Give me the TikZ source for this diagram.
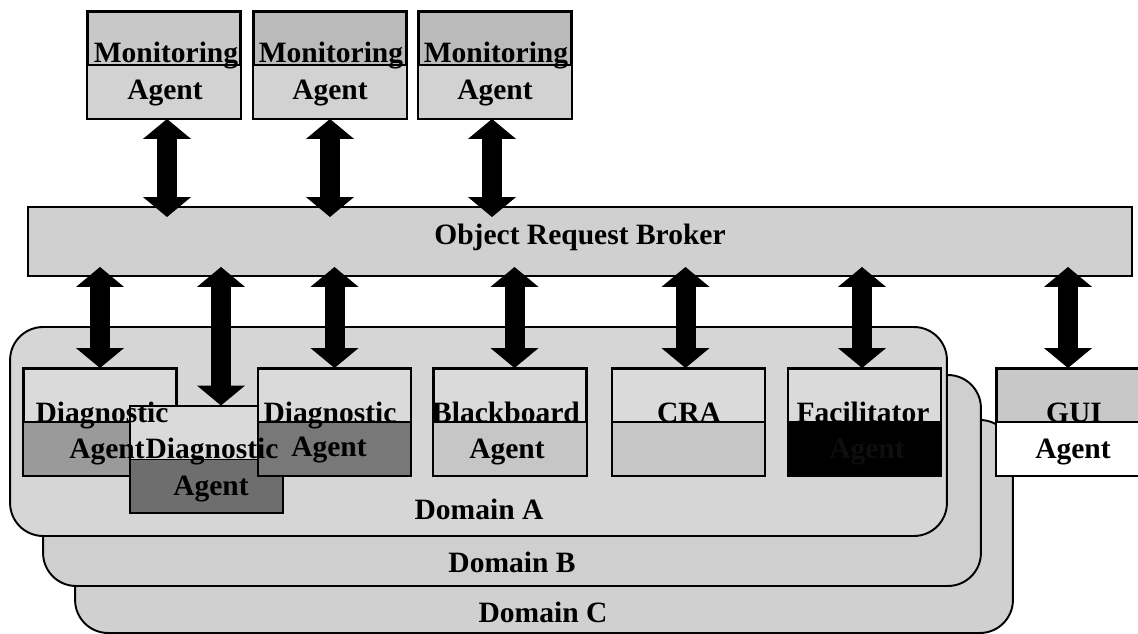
\documentclass[tikz,border=0pt]{standalone}
\usepackage{fontspec}
\setmainfont{Liberation Serif}
\usepackage{xcolor}
\usepackage{tikz}
\usetikzlibrary{arrows.meta,positioning}
\definecolor{orbc}{HTML}{D0D0D0}
\definecolor{domac}{HTML}{D6D6D6}
\definecolor{dombc}{HTML}{CFCFCF}
\definecolor{domcc}{HTML}{D0D0D0}
\definecolor{lightc}{HTML}{DADADA}
\definecolor{montc}{HTML}{C8C8C8}
\definecolor{montd}{HTML}{BABABA}
\definecolor{monbc}{HTML}{D2D2D2}
\definecolor{diagac}{HTML}{9A9A9A}
\definecolor{diagbc}{HTML}{6E6E6E}
\definecolor{diagcc}{HTML}{787878}
\definecolor{bbc}{HTML}{C6C6C6}
\definecolor{inkc}{HTML}{0E0E0E}
\tikzset{
  agent/.style={draw,line width=1.1pt,minimum width=3.04cm,minimum height=2.12cm,inner sep=0pt},
  dombox/.style={draw,line width=1.1pt,rounded corners=0.66cm,inner sep=0pt},
  lbl/.style={anchor=base,inner sep=0pt,font=\fontsize{16.8}{20}\selectfont\bfseries},
  dbl/.style={line width=0.4cm,{Triangle[width=0.94cm,length=0.4cm]}-{Triangle[width=0.94cm,length=0.4cm]}}
}
\begin{document}
\begin{tikzpicture}[x=0.02cm,y=-0.02cm]
\useasboundingbox (0,0) rectangle (1138,634);
% domains, back to front
\node[dombox,fill=domcc,minimum width=18.76cm,minimum height=4.26cm] (domC) at (544,526.5) {};
\node[dombox,fill=dombc,minimum width=18.76cm,minimum height=4.22cm] (domB) at (512,480.5) {};
\node[dombox,fill=domac,minimum width=18.74cm,minimum height=4.18cm] (domA) at (478.5,431.5) {};
\node[lbl] (domCt) at (543,622) {Domain C};
\node[lbl] (domBt) at (512,572) {Domain B};
\node[lbl] (domAt) at (479,519) {Domain A};
% broker bar
\node[draw,line width=1.1pt,fill=orbc,minimum width=22.08cm,minimum height=1.38cm,inner sep=0pt] (orb) at (580,241.5) {};
\node[lbl] (orbt) at (580,245) {Object Request Broker};
% agent boxes: upper half, lower half
\foreach \n/\x/\y/\ta/\tb in {mon1/164/65/montc/monbc,mon2/330/65/montd/monbc,mon3/495/65/montd/monbc,
  diag1/100/422/lightc/diagac,diag2/206.5/459.5/lightc/diagbc,diag3/334.5/422/lightc/diagcc,
  bboard/510/422/lightc/bbc,cra/688.5/422/lightc/bbc,facil/864.5/422/lightc/black,gui/1073/422/montc/white}{
  \node[agent,fill=\ta] (\n) at (\x,\y) {};
  \fill[\tb] (\n.west) rectangle (\n.south east);
  \draw[line width=1.1pt] (\n.west) -- (\n.east) (\n.north west) rectangle (\n.south east);
}
% labels
\foreach \n/\x/\y/\c/\t in {mon1a/166/63/black/Monitoring,mon1b/165/100/black/Agent,
  mon2a/331/63/black/Monitoring,mon2b/330/100/black/Agent,
  mon3a/496/63/black/Monitoring,mon3b/495/100/black/Agent,
  diag1a/102/422/black/Diagnostic,diag1b/107/458/black/Agent,
  diag2a/212/458/black/Diagnostic,diag2b/211/495/black/Agent,
  diag3a/330/422/black/Diagnostic,diag3b/329/456/black/Agent,
  bboarda/506/422/black/Blackboard,bboardb/507/458/black/Agent,
  craa/689/422/black/CRA,
  facila/863/422/black/Facilitator,facilb/867/458/inkc/Agent,
  guia/1074/422/black/GUI,guib/1073/458/black/Agent}{
  \node[lbl,text=\c] (\n) at (\x,\y) {\t};
}
% links to the broker
\foreach \n/\dx in {mon1/0.06,mon2/0,mon3/-0.06}
  \draw[dbl,shorten >=-0.22cm] ([xshift=\dx cm]\n.south) -- ([xshift=\dx cm]\n.south |- orb.north);
\foreach \n/\dx in {diag1/0,diag2/0.29,diag3/0,bboard/0.09,cra/-0.06,facil/-0.05,gui/-0.1}
  \draw[dbl,shorten <=-0.2cm] ([xshift=\dx cm]\n.north |- orb.south) -- ([xshift=\dx cm]\n.north);
\end{tikzpicture}
\end{document}
